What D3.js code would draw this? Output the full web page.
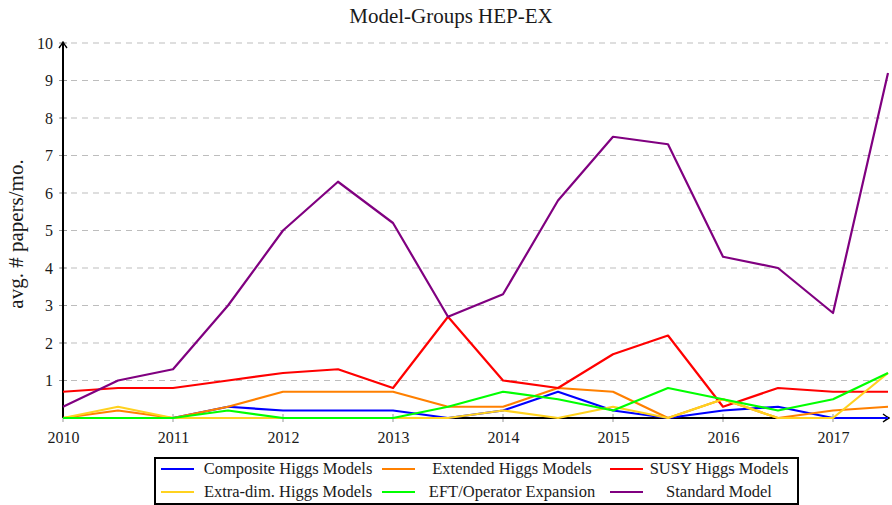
<!DOCTYPE html>
<html><head><meta charset="utf-8">
<script src="https://cdn.jsdelivr.net/npm/d3@7"></script>
<style>
html,body{margin:0;padding:0;background:#fff;}
svg{display:block;font-family:"Liberation Serif","DejaVu Serif",serif;}
</style></head>
<body>
<svg id="chart" width="892" height="505"></svg>
<script>
const years = [2010, 2010.5, 2011, 2011.5, 2012, 2012.5, 2013, 2013.5, 2014, 2014.5, 2015, 2015.5, 2016, 2016.5, 2017, 2017.5];
const xTicks = [2010, 2011, 2012, 2013, 2014, 2015, 2016, 2017];
const yTicks = [1, 2, 3, 4, 5, 6, 7, 8, 9, 10];
const seriesNames = ["Composite Higgs Models", "Extended Higgs Models", "SUSY Higgs Models", "Extra-dim. Higgs Models", "EFT/Operator Expansion", "Standard Model"];
const seriesColors = ["#0000ff", "#ff8000", "#ff0000", "#ffd21f", "#00ff00", "#800080"];
const composite = [0, 0, 0, 0.3, 0.2, 0.2, 0.2, 0, 0.2, 0.7, 0.2, 0, 0.2, 0.3, 0, 0];
const extended  = [0, 0.2, 0, 0.3, 0.7, 0.7, 0.7, 0.3, 0.3, 0.8, 0.7, 0, 0.5, 0, 0.2, 0.3];
const susy      = [0.7, 0.8, 0.8, 1.0, 1.2, 1.3, 0.8, 2.7, 1.0, 0.8, 1.7, 2.2, 0.3, 0.8, 0.7, 0.7];
const extradim  = [0, 0.3, 0, 0, 0, 0, 0, 0, 0.2, 0, 0.3, 0, 0.5, 0, 0, 1.2];
const eft       = [0, 0, 0, 0.2, 0, 0, 0, 0.3, 0.7, 0.5, 0.2, 0.8, 0.5, 0.2, 0.5, 1.2];
const standard  = [0.3, 1.0, 1.3, 3.0, 5.0, 6.3, 5.2, 2.7, 3.3, 5.8, 7.5, 7.3, 4.3, 4.0, 2.8, 9.2];
const seriesValues = [composite, extended, susy, extradim, eft, standard];

const svg = d3.select("#chart");
const L = 63, R = 888, T = 43, B = 418;
const x = d3.scaleLinear().domain([2010, 2017.5]).range([L, R]);
const y = d3.scaleLinear().domain([0, 10]).range([B, T]);

// title
svg.append("text").attr("x", 451).attr("y", 23).attr("text-anchor", "middle")
  .attr("font-size", 21).attr("fill", "#1a1a1a").text("Model-Groups HEP-EX");

// grid
svg.append("g").selectAll("line").data(yTicks).join("line")
  .attr("x1", L - 3).attr("x2", R).attr("y1", d => y(d)).attr("y2", d => y(d))
  .attr("stroke", "#bdbdbd").attr("stroke-width", 1.2).attr("stroke-dasharray", "6,5");

// y ticks
const yAxis = d3.axisLeft(y).tickValues(yTicks).tickSize(0).tickPadding(10).tickFormat(d3.format("d"));
const gy = svg.append("g").attr("transform", `translate(${L},0)`).call(yAxis);
gy.select(".domain").remove();
gy.selectAll("text").attr("font-size", 16).attr("fill", "#1a1a1a").attr("font-family", "Liberation Serif");
svg.append("g").selectAll("line").data(yTicks).join("line")
  .attr("x1", L - 4).attr("x2", L + 4).attr("y1", d => y(d)).attr("y2", d => y(d))
  .attr("stroke", "#999").attr("stroke-width", 1);

// x ticks
const xAxis = d3.axisBottom(x).tickValues(xTicks).tickSize(0).tickPadding(14).tickFormat(d3.format("d"));
const gx = svg.append("g").attr("transform", `translate(0,${B})`).call(xAxis);
gx.select(".domain").remove();
gx.selectAll("text").attr("font-size", 16).attr("fill", "#1a1a1a").attr("font-family", "Liberation Serif");
svg.append("g").selectAll("line").data(xTicks).join("line")
  .attr("x1", d => x(d)).attr("x2", d => x(d)).attr("y1", B - 4).attr("y2", B + 4)
  .attr("stroke", "#999").attr("stroke-width", 1);

// axes lines with arrows
const defs = svg.append("defs");
defs.append("marker").attr("id", "arr").attr("viewBox", "-6 -5 8 10").attr("refX", 0).attr("refY", 0)
  .attr("markerWidth", 8).attr("markerHeight", 10).attr("markerUnits", "userSpaceOnUse").attr("orient", "auto")
  .append("path").attr("d", "M-5,-4 Q-1,-1 1,0 Q-1,1 -5,4").attr("fill", "none").attr("stroke", "#000").attr("stroke-width", 1.4);
svg.append("line").attr("x1", L).attr("x2", R).attr("y1", B).attr("y2", B)
  .attr("stroke", "#000").attr("stroke-width", 2).attr("marker-end", "url(#arr)");
svg.append("line").attr("x1", L).attr("x2", L).attr("y1", B).attr("y2", T)
  .attr("stroke", "#000").attr("stroke-width", 2).attr("marker-end", "url(#arr)");

// series
const line = d3.line().x((d, i) => x(years[i])).y(d => y(d));
svg.append("g").selectAll("path").data(seriesValues).join("path")
  .attr("d", d => line(d)).attr("fill", "none")
  .attr("stroke", (d, i) => seriesColors[i]).attr("stroke-width", 2.2).attr("stroke-linejoin", "round");

// y label
svg.append("text").attr("transform", "translate(23,234) rotate(-90)").attr("text-anchor", "middle")
  .attr("font-size", 21).attr("fill", "#1a1a1a").text("avg. # papers/mo.");

// legend
const lg = svg.append("g");
lg.append("rect").attr("x", 155).attr("y", 458).attr("width", 643).attr("height", 46)
  .attr("fill", "#fff").attr("stroke", "#000").attr("stroke-width", 2);
const colX = [161, 382, 610];
const colTextC = [288, 512, 719];
const rowY = [469, 492];
seriesNames.forEach((name, i) => {
  const c = i % 3, r = Math.floor(i / 3);
  lg.append("line").attr("x1", colX[c]).attr("x2", colX[c] + 33).attr("y1", rowY[r]).attr("y2", rowY[r])
    .attr("stroke", seriesColors[i]).attr("stroke-width", 2.2);
  lg.append("text").attr("x", colTextC[c]).attr("y", rowY[r] + 5).attr("text-anchor", "middle")
    .attr("font-size", 16.5).attr("fill", "#1a1a1a").text(name);
});
</script>
</body></html>
